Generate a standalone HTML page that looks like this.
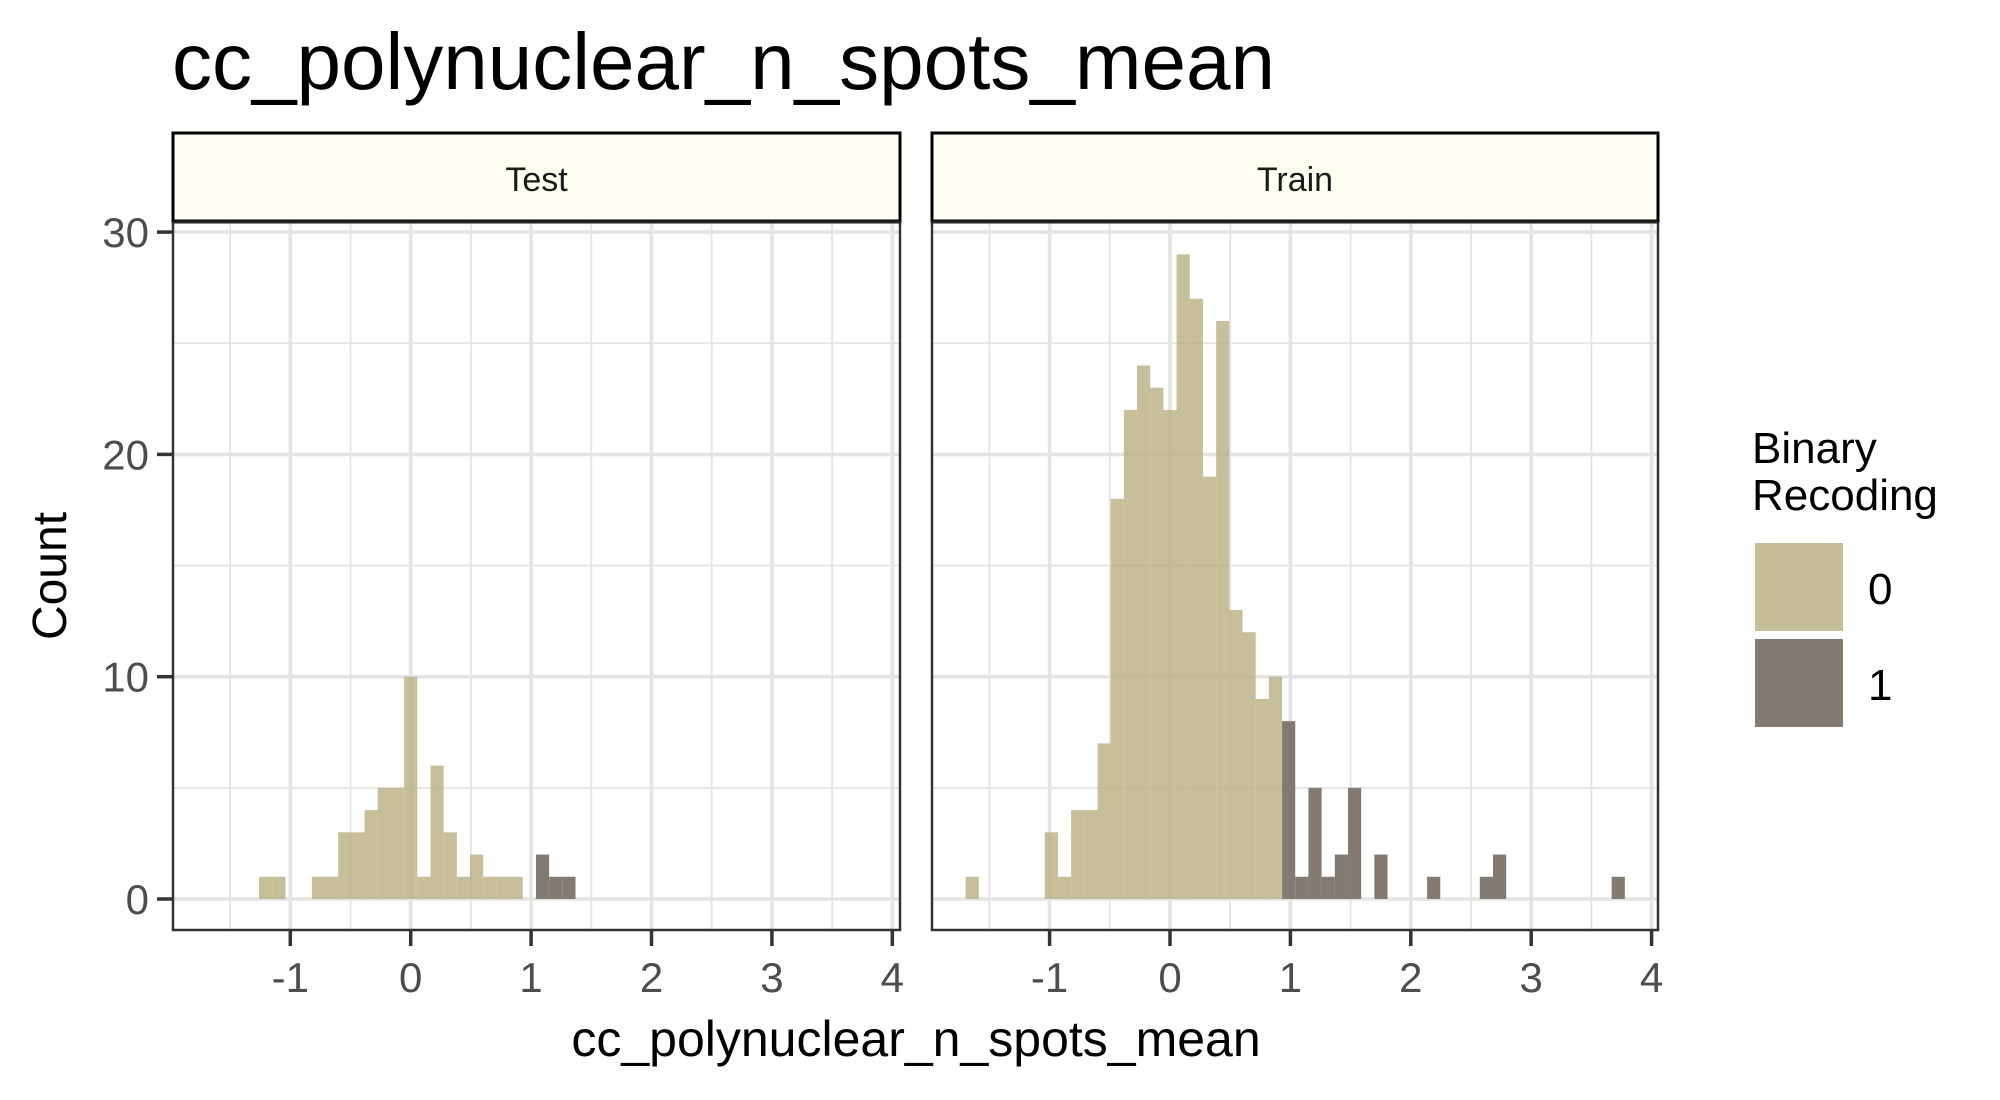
<!DOCTYPE html>
<html><head><meta charset="utf-8"><style>
html,body{margin:0;padding:0;background:#fff;}
svg{display:block;font-family:"Liberation Sans",sans-serif;}
</style></head><body>
<svg id="chart" width="2000" height="1100" viewBox="0 0 2000 1100" xmlns="http://www.w3.org/2000/svg">
<rect width="2000" height="1100" fill="#fff"/>
<text x="172" y="89" font-size="80" fill="#000">cc_polynuclear_n_spots_mean</text>
<text transform="translate(66,576) rotate(-90)" text-anchor="middle" font-size="48" fill="#000">Count</text>
<text x="916" y="1056" text-anchor="middle" font-size="50" fill="#000">cc_polynuclear_n_spots_mean</text>
<g>
<text x="1752" y="463" font-size="44" fill="#000">Binary</text>
<text x="1752" y="510" font-size="44" fill="#000">Recoding</text>
<rect x="1755" y="543" width="88" height="88" fill="#C5BE99"/>
<rect x="1755" y="639" width="88" height="88" fill="#837B71"/>
<text x="1868" y="604" font-size="44" fill="#000">0</text>
<text x="1868" y="700" font-size="44" fill="#000">1</text>
</g>
</svg>
<script>
const binWidth = 0.1095;
const testBins = [-11,-10,-7,-6,-5,-4,-3,-2,-1,0,1,2,3,4,5,6,7,8,10,11,12];
const testCounts = [1,1,1,1,3,3,4,5,5,10,1,6,3,1,2,1,1,1,2,1,1];
const testGroup = [0,0,0,0,0,0,0,0,0,0,0,0,0,0,0,0,0,0,1,1,1];
const trainBins = [-15,-9,-8,-7,-6,-5,-4,-3,-2,-1,0,1,2,3,4,5,6,7,8,9,10,11,12,13,14,16,20,24,25,34];
const trainCounts = [1,3,1,4,4,7,18,22,24,23,22,29,27,19,26,13,12,9,10,8,1,5,1,2,5,2,1,1,2,1];
const trainGroup = [0,0,0,0,0,0,0,0,0,0,0,0,0,0,0,0,0,0,0,1,1,1,1,1,1,1,1,1,1,1];
const xTicks = [-1,0,1,2,3,4];
const yTicks = [0,10,20,30];
const panelNames = ["Test","Train"];

(function(){
const NS = "http://www.w3.org/2000/svg";
const svg = document.getElementById("chart");
function mk(tag, attrs, parent){ const e=document.createElementNS(NS,tag); for(const k in attrs) e.setAttribute(k,attrs[k]); (parent||svg).appendChild(e); return e; }

const panels = [
  {left:173, right:900, zero:410.7, bins:testBins, counts:testCounts, group:testGroup},
  {left:932, right:1658, zero:1170, bins:trainBins, counts:trainCounts, group:trainGroup}
];
const unit = 120.4, pTop = 222, pBottom = 930;
const y0 = 899, perCount = 22.23;
const GRID = "#E4E4E4";
function yScale(v){ return y0 - v*perCount; }

panels.forEach((p, pi) => {
  const xs = v => p.zero + v*unit;
  const g = mk("g", {});
  
  
  [5,15,25].forEach(v => { const l = mk("line",{x1:p.left,x2:p.right,y1:yScale(v),y2:yScale(v),stroke:GRID,"stroke-width":1.8},g);
    
     });
  [-1.5,-0.5,0.5,1.5,2.5,3.5].forEach(v => { const l = mk("line",{x1:xs(v),x2:xs(v),y1:pTop,y2:pBottom,stroke:GRID,"stroke-width":1.8},g);
    
     });
  yTicks.forEach(v => { const l = mk("line",{x1:p.left,x2:p.right,y1:yScale(v),y2:yScale(v),stroke:GRID,"stroke-width":3.6},g);
    
     });
  xTicks.forEach(v => { const l = mk("line",{x1:xs(v),x2:xs(v),y1:pTop,y2:pBottom,stroke:GRID,"stroke-width":3.6},g);
    
     });
  p.bins.forEach((k, i) => {
    const c = k*binWidth;
    const x1 = xs(c - binWidth/2), x2 = xs(c + binWidth/2);
    const r = mk("rect",{x:x1,y:yScale(p.counts[i]),width:x2-x1,height:yScale(0)-yScale(p.counts[i]),fill:p.group[i]?"#837B71":"#B8AF80","fill-opacity":p.group[i]?1:0.8},g);
    
    
  });
  const b = mk("rect",{x:p.left,y:pTop,width:p.right-p.left,height:pBottom-pTop,fill:"none",stroke:"#333","stroke-width":2.5},g);
  
  
  const s = mk("rect",{x:p.left,y:133,width:p.right-p.left,height:88,fill:"#FEFFF0",stroke:"#000","stroke-width":3},g);
  
  
  const sl = mk("line",{x1:p.left,x2:p.right,y1:222,y2:222,stroke:"#222","stroke-width":3},g);
  
  
  const st = mk("text",{x:(p.left+p.right)/2,y:191,"text-anchor":"middle","font-size":34,fill:"#1a1a1a"},g);
  st.textContent = panelNames[pi];
  
  
  xTicks.forEach(v => {
    const t = mk("line",{x1:xs(v),x2:xs(v),y1:pBottom,y2:pBottom+16,stroke:"#333","stroke-width":3.5},g);
    
    
    const lbl = mk("text",{x:xs(v),y:992,"text-anchor":"middle","font-size":42,fill:"#4d4d4d"},g);
    lbl.textContent = v;
    
    
  });
  if (pi === 0) {
    yTicks.forEach(v => {
      const t = mk("line",{x1:p.left-16,x2:p.left,y1:yScale(v),y2:yScale(v),stroke:"#333","stroke-width":3.5},g);
      
      
      const lbl = mk("text",{x:p.left-24,y:yScale(v)+15,"text-anchor":"end","font-size":42,fill:"#4d4d4d"},g);
      lbl.textContent = v;
      
      
    });
  }
});
})();
</script>
</body></html>
